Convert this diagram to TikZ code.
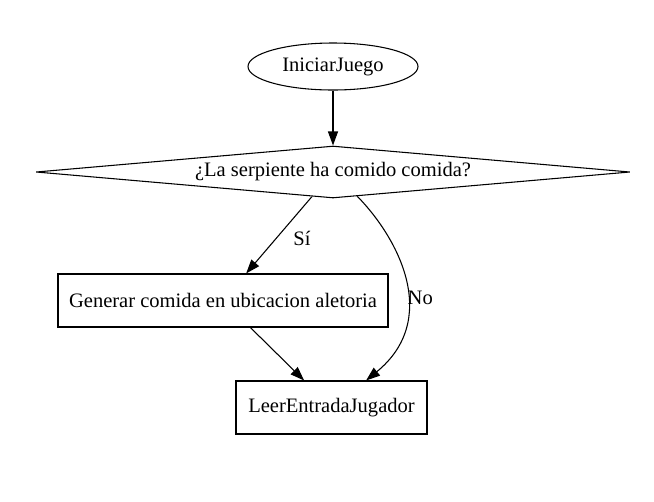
\documentclass[tikz,border=0pt]{standalone}
\usepackage{fontspec}
\setmainfont{Liberation Serif}
\usetikzlibrary{shapes.geometric,arrows.meta,positioning}

\begin{document}
\begin{tikzpicture}[x=0.75pt, y=-0.75pt,
    every node/.style={font=\fontsize{15.4}{18.5}\selectfont},
    terminalNode/.style={ellipse, draw, line width=0.8pt, minimum width=127.5pt, minimum height=35.25pt, inner sep=0pt},
    decisionNode/.style={diamond, draw, line width=0.8pt, aspect=11.4, minimum width=445.5pt, minimum height=39pt, inner sep=0pt},
    processBox/.style={rectangle, draw, line width=0.8pt, minimum height=39.75pt},
    flowArrow/.style={-{Triangle[length=10.5pt, width=7.5pt]}, line width=0.8pt}
]
    \useasboundingbox (0,0) rectangle (654,501);

    % Nodes of the flow
    \node[terminalNode] (iniciar) at (333,66.5) {IniciarJuego};
    \node[decisionNode] (comio) at (333,172) {¿La serpiente ha comido comida?};
    \node[processBox, minimum width=247.5pt] (generar) at (223,300.5) {Generar comida en ubicacion aletoria};
    \node[processBox, minimum width=143.25pt] (leer) at (331.5,407.5) {LeerEntradaJugador};

    % Connectors
    \draw[flowArrow] (iniciar) -- (comio);
    \draw[flowArrow] (comio) -- node[pos=0.54, right=9pt] {Sí} (generar);
    \draw[flowArrow] (generar) -- (leer);
    \draw[flowArrow] (comio.-45) .. controls (400,240) and (440,320) .. node[pos=0.58, anchor=west, inner sep=0pt] {No} (leer.38);
\end{tikzpicture}
\end{document}
